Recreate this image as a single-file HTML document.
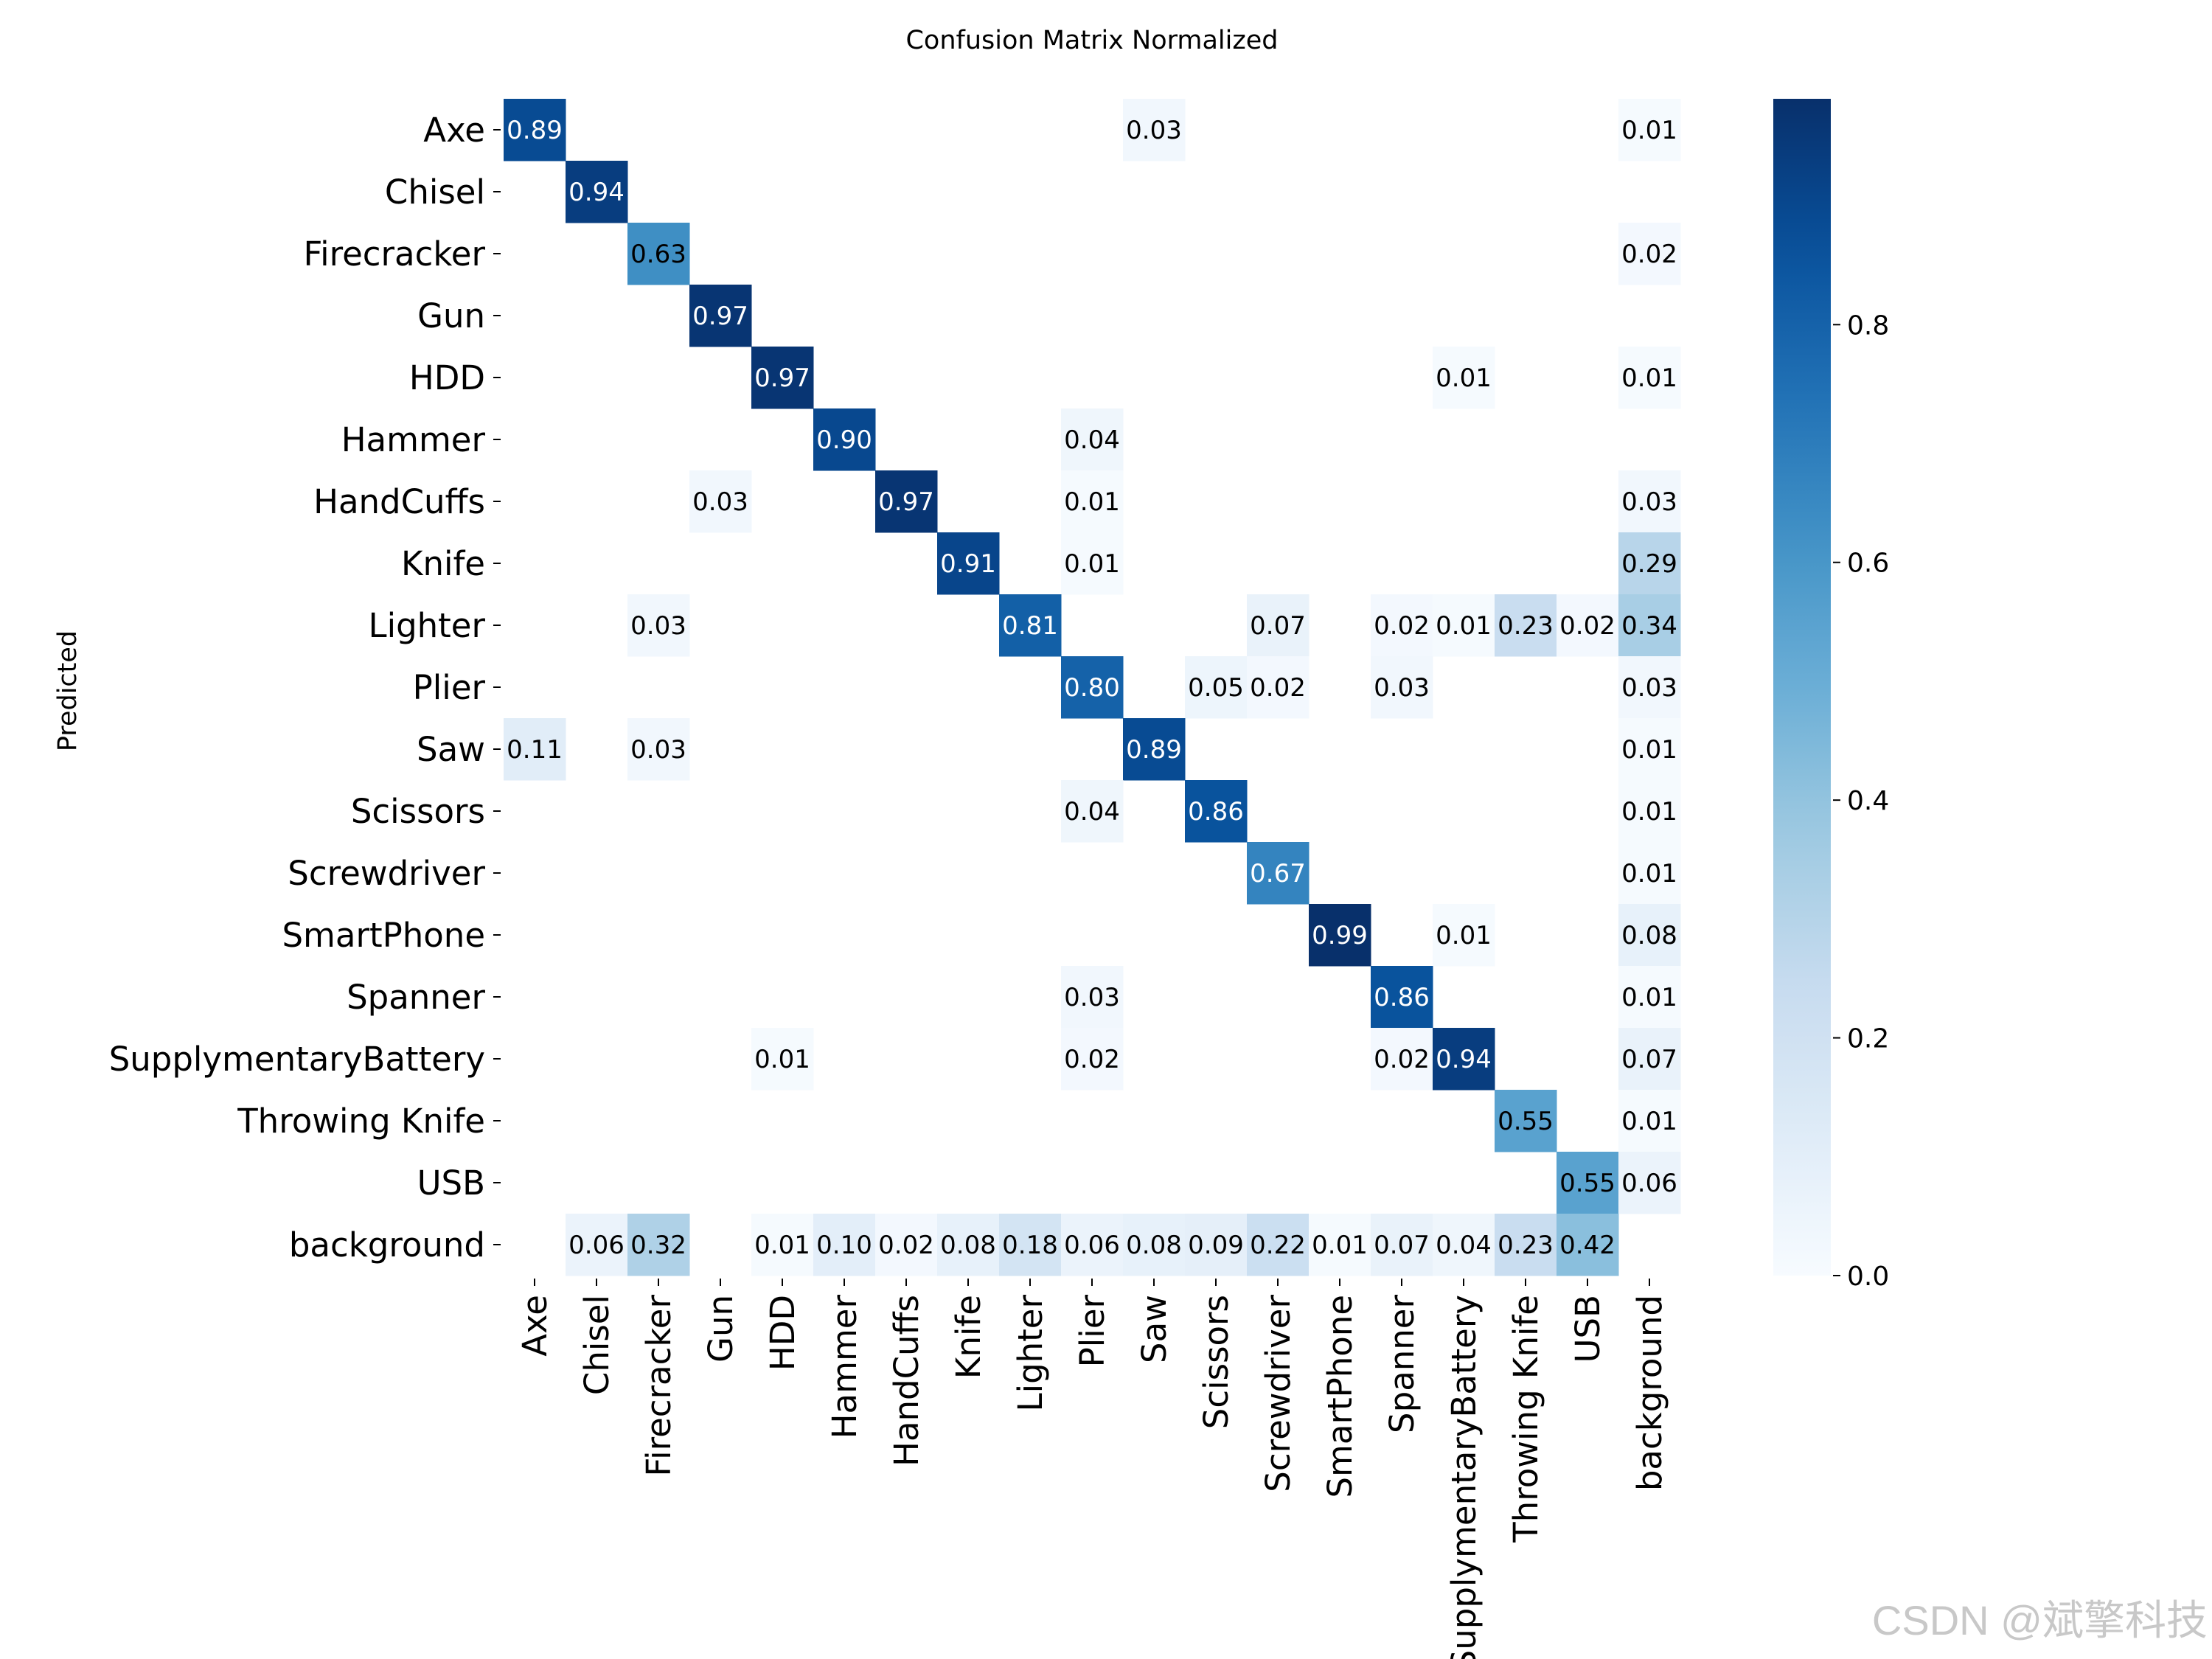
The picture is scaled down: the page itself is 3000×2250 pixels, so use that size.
<!DOCTYPE html>
<html><head><meta charset="utf-8"><style>
html,body{margin:0;padding:0;background:#fff;}
svg{display:block;font-family:"DejaVu Sans","Liberation Sans",sans-serif;}
</style></head><body>
<svg id="chart" width="3000" height="2250" viewBox="0 0 3000 2250" xmlns="http://www.w3.org/2000/svg">
<text x="1481" y="66" font-size="35" text-anchor="middle">Confusion Matrix Normalized</text>
<text x="0" y="0" font-size="35" text-anchor="middle" transform="translate(103,937) rotate(-90)">Predicted</text>
<g id="cells"></g>
<g id="yticks"></g>
<g id="xticks"></g>
<g id="cbar"></g>
<text x="2994" y="2217" font-size="56" fill="#c8c8c8" text-anchor="end" font-family="Liberation Sans, Noto Sans CJK SC, sans-serif">CSDN @斌擎科技</text>
</svg>
<script>
const categories = ["Axe","Chisel","Firecracker","Gun","HDD","Hammer","HandCuffs","Knife","Lighter","Plier","Saw","Scissors","Screwdriver","SmartPhone","Spanner","SupplymentaryBattery","Throwing Knife","USB","background"];
// rows = predicted, cols = true; 0 = blank
const rowAxe         = [0.89,0,0,0,0,0,0,0,0,0,0.03,0,0,0,0,0,0,0,0.01];
const rowChisel      = [0,0.94,0,0,0,0,0,0,0,0,0,0,0,0,0,0,0,0,0];
const rowFirecracker = [0,0,0.63,0,0,0,0,0,0,0,0,0,0,0,0,0,0,0,0.02];
const rowGun         = [0,0,0,0.97,0,0,0,0,0,0,0,0,0,0,0,0,0,0,0];
const rowHDD         = [0,0,0,0,0.97,0,0,0,0,0,0,0,0,0,0,0.01,0,0,0.01];
const rowHammer      = [0,0,0,0,0,0.90,0,0,0,0.04,0,0,0,0,0,0,0,0,0];
const rowHandCuffs   = [0,0,0,0.03,0,0,0.97,0,0,0.01,0,0,0,0,0,0,0,0,0.03];
const rowKnife       = [0,0,0,0,0,0,0,0.91,0,0.01,0,0,0,0,0,0,0,0,0.29];
const rowLighter     = [0,0,0.03,0,0,0,0,0,0.81,0,0,0,0.07,0,0.02,0.01,0.23,0.02,0.34];
const rowPlier       = [0,0,0,0,0,0,0,0,0,0.80,0,0.05,0.02,0,0.03,0,0,0,0.03];
const rowSaw         = [0.11,0,0.03,0,0,0,0,0,0,0,0.89,0,0,0,0,0,0,0,0.01];
const rowScissors    = [0,0,0,0,0,0,0,0,0,0.04,0,0.86,0,0,0,0,0,0,0.01];
const rowScrewdriver = [0,0,0,0,0,0,0,0,0,0,0,0,0.67,0,0,0,0,0,0.01];
const rowSmartPhone  = [0,0,0,0,0,0,0,0,0,0,0,0,0,0.99,0,0.01,0,0,0.08];
const rowSpanner     = [0,0,0,0,0,0,0,0,0,0.03,0,0,0,0,0.86,0,0,0,0.01];
const rowBattery     = [0,0,0,0,0.01,0,0,0,0,0.02,0,0,0,0,0.02,0.94,0,0,0.07];
const rowThrowing    = [0,0,0,0,0,0,0,0,0,0,0,0,0,0,0,0,0.55,0,0.01];
const rowUSB         = [0,0,0,0,0,0,0,0,0,0,0,0,0,0,0,0,0,0.55,0.06];
const rowBackground  = [0,0.06,0.32,0,0.01,0.10,0.02,0.08,0.18,0.06,0.08,0.09,0.22,0.01,0.07,0.04,0.23,0.42,0];
const matrix = [rowAxe,rowChisel,rowFirecracker,rowGun,rowHDD,rowHammer,rowHandCuffs,rowKnife,rowLighter,rowPlier,rowSaw,rowScissors,rowScrewdriver,rowSmartPhone,rowSpanner,rowBattery,rowThrowing,rowUSB,rowBackground];
const cbarTicks = [0.0,0.2,0.4,0.6,0.8];
const cbarTickLabels = ["0.0","0.2","0.4","0.6","0.8"];
const vmin = 0, vmax = 0.99;

const NS="http://www.w3.org/2000/svg";
const X0=683, Y0=134, CW=84, CH=84;
const xPos = i => X0 + i*CW;
const yPos = i => Y0 + i*CH;
const stops=["#f7fbff","#deebf7","#c6dbef","#9ecae1","#6baed6","#4292c6","#2171b5","#08519c","#08306b"];
function hex(h){return [1,3,5].map(i=>parseInt(h.substr(i,2),16));}
function blues(v){
  let t=Math.max(0,Math.min(1,(v-vmin)/(vmax-vmin)))*(stops.length-1);
  let i=Math.min(Math.floor(t),stops.length-2), f=t-i;
  let a=hex(stops[i]), b=hex(stops[i+1]);
  return "rgb("+a.map((c,k)=>Math.round(c+(b[k]-c)*f)).join(",")+")";
}
function mk(tag,attrs,parent){const e=document.createElementNS(NS,tag);for(const k in attrs)e.setAttribute(k,attrs[k]);parent.appendChild(e);return e;}

const cells=document.getElementById("cells");
matrix.forEach((row,r)=>{
  row.forEach((v,c)=>{
    if(!(v>=0.005)) return;
    const rect=mk("rect",{x:xPos(c),y:yPos(r),width:CW+0.5,height:CH+0.5,fill:blues(v)},cells);
    
    
    const t=mk("text",{x:xPos(c)+CW/2,y:yPos(r)+CH/2+12,"font-size":"34","text-anchor":"middle",fill:v>0.65?"#fff":"#000"},cells);
    
    
    t.textContent=v.toFixed(2);
  });
});

const yt=document.getElementById("yticks");
categories.forEach((name,i)=>{
  const y=yPos(i)+CH/2;
  const l=mk("line",{x1:X0-14,x2:X0-4,y1:y,y2:y,stroke:"#000","stroke-width":"2"},yt);
  
  
  const t=mk("text",{x:X0-25,y:y+16,"font-size":"45","text-anchor":"end"},yt);
  
  
  t.textContent=name;
});

const xt=document.getElementById("xticks");
const YB=yPos(categories.length);
categories.forEach((name,i)=>{
  const x=xPos(i)+CW/2;
  const l=mk("line",{x1:x,x2:x,y1:YB+4,y2:YB+14,stroke:"#000","stroke-width":"2"},xt);
  
  
  const t=mk("text",{x:0,y:0,"font-size":"45","text-anchor":"end",transform:"translate("+(x+16)+","+(YB+26)+") rotate(-90)"},xt);
  
  
  t.textContent=name;
});

// colorbar
const cb=document.getElementById("cbar");
const CBX=2405, CBW=78, CBT=134, CBB=1730;
const cbY = v => CBB - (v-vmin)/(vmax-vmin)*(CBB-CBT);
const defs=mk("defs",{},cb);
const grad=mk("linearGradient",{id:"bg",x1:"0",y1:"1",x2:"0",y2:"0"},defs);
for(let k=0;k<=20;k++){const v=vmin+(vmax-vmin)*k/20;mk("stop",{offset:(k/20),"stop-color":blues(v)},grad);}
const bar=mk("rect",{x:CBX,y:CBT,width:CBW,height:CBB-CBT,fill:"url(#bg)"},cb);


cbarTicks.forEach((v,i)=>{
  const y=cbY(v);
  const l=mk("line",{x1:CBX+CBW+3,x2:CBX+CBW+13,y1:y,y2:y,stroke:"#000","stroke-width":"2"},cb);
  
  
  const t=mk("text",{x:CBX+CBW+22,y:y+13,"font-size":"36"},cb);
  
  
  t.textContent=cbarTickLabels[i];
});
</script>
</body></html>
